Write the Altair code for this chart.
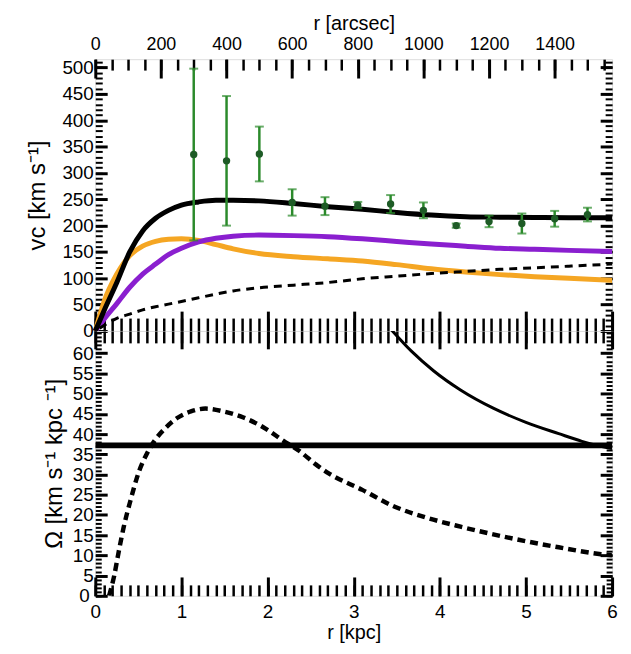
import altair as alt
import pandas as pd

FONT = "Liberation Sans"
W, H1, H2 = 521, 274, 267

# ---------------- data: top panel (rotation curve) ----------------
r_kpc = [0.0, 0.1, 0.25, 0.4, 0.55, 0.7, 0.85, 1.0, 1.2, 1.4, 1.6, 1.9, 2.3,
         2.7, 3.1, 3.5, 3.9, 4.3, 4.7, 5.1, 5.5, 6.0]
v_total = [0, 38, 92, 150, 190, 214, 229, 239, 245, 248, 248, 247, 242,
           236, 231, 225, 220, 217, 216, 215.5, 215, 215]
v_bulge = [0, 55, 108, 143, 161, 170, 174, 175, 172, 164, 156, 147, 141,
           137, 133, 126, 118, 112, 107, 103, 100, 96]
v_disk = [0, 22, 52, 83, 108, 127, 145, 157, 169, 176, 180, 182, 181,
          179, 175, 170, 165, 161, 157, 155, 153, 151]
r_dash = [0.05, 0.25, 0.4, 0.55, 0.7, 0.85, 1.0, 1.2, 1.4, 1.6, 1.9, 2.3,
          2.7, 3.1, 3.5, 3.9, 4.3, 4.7, 5.1, 5.5, 6.0]
v_dash = [5, 24, 32, 40, 46, 51, 56, 63, 70, 76, 82, 87,
          92, 99, 104, 109, 113, 117, 120, 123, 127]

obs_arcsec = [300, 400, 500, 600, 700, 800, 900, 1000, 1100, 1200, 1300, 1400, 1500]
obs_v = [335, 323, 336, 244, 237, 239, 241, 229, 200, 208, 204, 213, 221]
obs_err = [163, 123, 52, 25, 17, 6, 17, 15, 4, 11, 19, 15, 13]

# ---------------- data: bottom panel (angular speeds) ----------------
r_om = [3.42, 3.67, 3.93, 4.24, 4.62, 5.0, 5.38, 5.65, 5.95, 6.0]
omega = [66.2, 60.5, 55.6, 50.9, 46.4, 42.9, 40.1, 38.2, 36.6, 36.4]
r_res = [0.16, 0.22, 0.27, 0.33, 0.41, 0.5, 0.6, 0.69, 0.81, 0.96, 1.11, 1.28,
         1.49, 1.72, 1.95, 2.18, 2.37, 2.56, 2.71, 3.1, 3.47, 3.85, 4.24, 4.62,
         5.0, 5.38, 5.87, 6.0]
om_res = [0, 5, 10.7, 17, 23.7, 30.3, 35.2, 38.4, 41.4, 44.1, 45.6, 46.3,
          45.6, 44.1, 41.7, 38.4, 35.8, 32.5, 30.3, 26.2, 22.1, 19.3, 17.1, 15.2,
          13.5, 12.0, 10.3, 10.0]
r_pat = [0, 6]
om_pat = [37.2, 37.2]

# ---------------- tick values ----------------
kpc_major = [0, 1, 2, 3, 4, 5, 6]
kpc_minor = [i / 10 for i in range(61)]
arc_major = [0, 200, 400, 600, 800, 1000, 1200, 1400]
arc_minor = list(range(0, 1576, 50))
v_major = list(range(0, 501, 50))
v_minor = list(range(0, 516, 10))
om_major = list(range(0, 61, 5))
om_minor = list(range(0, 66, 1))

KPC = alt.Scale(domain=[0, 6], nice=False, zero=False)
ARC = alt.Scale(domain=[0, 1575], nice=False, zero=False)
VS = alt.Scale(domain=[0, 516], nice=False, zero=False)
OS = alt.Scale(domain=[0, 65.5], nice=False, zero=False)


def ax(orient, values, size, width=2.5, labels=False, title=None,
       lsize=19, lpad=2, tsize=22, tpad=6):
    kw = dict(orient=orient, values=values, tickSize=size, offset=-size,
              domain=False, grid=False, ticks=True, tickColor="black",
              tickWidth=width, labels=labels, minExtent=0, title=title)
    if labels:
        kw.update(labelFont=FONT, labelFontSize=lsize, labelColor="black",
                  labelPadding=lpad, labelFlush=False, labelOverlap=False,
                  format="d")
    if title is not None:
        kw.update(titleFont=FONT, titleFontSize=tsize, titleColor="black",
                  titleFontWeight="normal", titlePadding=tpad)
    return alt.Axis(**kw)


df_tot = pd.DataFrame({"r": r_kpc, "v": v_total})
df_bul = pd.DataFrame({"r": r_kpc, "v": v_bulge})
df_dsk = pd.DataFrame({"r": r_kpc, "v": v_disk})
df_dsh = pd.DataFrame({"r": r_dash, "v": v_dash})
df_obs = pd.DataFrame({"a": obs_arcsec, "v": obs_v, "e": obs_err})
df_obs["lo"] = df_obs["v"] - df_obs["e"]
df_obs["hi"] = df_obs["v"] + df_obs["e"]

GREEN = "#2b8a2b"

bulge = alt.Chart(df_bul).mark_line(color="#f5a623", strokeWidth=5, interpolate="monotone").encode(
    x=alt.X("r:Q", scale=KPC, axis=ax("bottom", kpc_major, 20, 3)),
    y=alt.Y("v:Q", scale=VS, axis=ax("left", v_major, 12, 3, labels=True,
                                      title="vc [km s⁻¹]", lsize=19, tsize=24, tpad=12)),
)
disk = alt.Chart(df_dsk).mark_line(color="#8a1fcf", strokeWidth=5, interpolate="monotone").encode(
    x=alt.X("r:Q", scale=KPC, axis=ax("bottom", kpc_minor, 13, 2.5)),
    y=alt.Y("v:Q", scale=VS, axis=ax("left", v_minor, 7, 2)),
)
dashed = alt.Chart(df_dsh).mark_line(color="black", strokeWidth=3, strokeDash=[8, 6],
                                     interpolate="monotone").encode(
    x=alt.X("r:Q", scale=KPC, axis=None),
    y=alt.Y("v:Q", scale=VS, axis=None),
)
total = alt.Chart(df_tot).mark_line(color="black", strokeWidth=5, interpolate="monotone").encode(
    x=alt.X("r:Q", scale=KPC, axis=None),
    y=alt.Y("v:Q", scale=VS, axis=None),
)
bars = alt.Chart(df_obs).mark_rule(color=GREEN, strokeWidth=2.5).encode(
    x=alt.X("a:Q", scale=ARC, axis=ax("top", arc_minor, 11, 2.5)),
    y=alt.Y("lo:Q", scale=VS, axis=ax("right", v_minor, 7, 2)),
    y2="hi:Q",
)
cap_hi = alt.Chart(df_obs).mark_tick(color=GREEN, orient="horizontal", size=9, thickness=2).encode(
    x=alt.X("a:Q", scale=ARC, axis=None),
    y=alt.Y("hi:Q", scale=VS, axis=None),
)
cap_lo = alt.Chart(df_obs).mark_tick(color=GREEN, orient="horizontal", size=9, thickness=2).encode(
    x=alt.X("a:Q", scale=ARC, axis=None),
    y=alt.Y("lo:Q", scale=VS, axis=None),
)
points = alt.Chart(df_obs).mark_point(filled=True, size=55, color="#1e5b26", opacity=1).encode(
    x=alt.X("a:Q", scale=ARC, axis=ax("top", arc_major, 19, 3, labels=True,
                                      title="r [arcsec]", lsize=18, lpad=6, tsize=20, tpad=2)),
    y=alt.Y("v:Q", scale=VS, axis=ax("right", v_major, 12, 3)),
)

top = alt.layer(bulge, disk, dashed, total, bars, cap_hi, cap_lo, points).resolve_scale(
    x="independent", y="shared").resolve_axis(x="independent", y="independent").properties(
    width=W, height=H1)

df_om = pd.DataFrame({"r": r_om, "o": omega})
df_res = pd.DataFrame({"r": r_res, "o": om_res})
df_pat = pd.DataFrame({"r": r_pat, "o": om_pat})

om_left = ax("left", om_major, 12, 3, labels=True,
             title="Ω [km s⁻¹ kpc ⁻¹]", lsize=19, tsize=24, tpad=6)
om_left["labelPadding"] = {"condition": {"test": "datum.value == 0", "value": 6}, "value": 2}

om_line = alt.Chart(df_om).mark_line(color="black", strokeWidth=3, clip=True,
                                     interpolate="monotone").encode(
    x=alt.X("r:Q", scale=KPC, axis=ax("bottom", kpc_major, 19, 3, labels=True,
                                      title="r [kpc]", lsize=19, lpad=7, tsize=20, tpad=1)),
    y=alt.Y("o:Q", scale=OS, axis=om_left),
)
res_line = alt.Chart(df_res).mark_line(color="black", strokeWidth=4.5, strokeDash=[8, 5], clip=True,
                                       interpolate="monotone").encode(
    x=alt.X("r:Q", scale=KPC, axis=ax("bottom", kpc_minor, 11, 2.5)),
    y=alt.Y("o:Q", scale=OS, axis=ax("left", om_minor, 6, 2)),
)
pat_line = alt.Chart(df_pat).mark_line(color="black", strokeWidth=6, clip=True).encode(
    x=alt.X("r:Q", scale=KPC, axis=ax("top", kpc_major, 18, 3)),
    y=alt.Y("o:Q", scale=OS, axis=ax("right", om_major, 12, 3)),
)
ghost = alt.Chart(df_res).mark_point(opacity=0).encode(
    x=alt.X("r:Q", scale=KPC, axis=ax("top", kpc_minor, 12, 2.5)),
    y=alt.Y("o:Q", scale=OS, axis=ax("right", om_minor, 6, 2)),
)

bottom = alt.layer(ghost, pat_line, res_line, om_line).resolve_scale(
    x="independent", y="shared").resolve_axis(x="independent", y="independent").properties(
    width=W, height=H2)

chart = alt.vconcat(top, bottom, spacing=0, bounds="flush").properties(
    padding={"left": 17, "top": 2, "right": 0, "bottom": 0}
).configure_view(stroke="black", strokeWidth=2).configure(background="white")

chart.save("out.html", embed_options={"renderer": "svg", "actions": False})
